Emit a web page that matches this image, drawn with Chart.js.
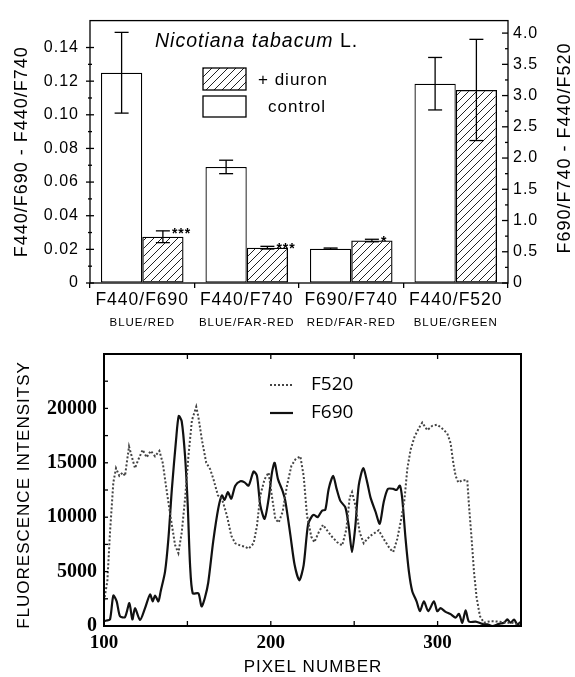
<!DOCTYPE html>
<html>
<head>
<meta charset="utf-8">
<script src="https://cdn.jsdelivr.net/npm/chart.js@4.4.0/dist/chart.umd.min.js"></script>
<style>
  html, body { margin: 0; padding: 0; background: #fff; }
  #wrap { position: relative; width: 575px; height: 677px; }
  #ratioChart { position: absolute; left: 0; top: 0; }
  #profileChart { position: absolute; left: 0; top: 335px; }
</style>
</head>
<body>
<div id="wrap">
  <canvas id="ratioChart" width="575" height="335"></canvas>
  <canvas id="profileChart" width="575" height="342"></canvas>
</div>
<script>
// ---- top panel: fluorescence ratios ----
const ratioLabels = ['F440/F690', 'F440/F740', 'F690/F740', 'F440/F520'];
const colourLabels = ['BLUE/RED', 'BLUE/FAR-RED', 'RED/FAR-RED', 'BLUE/GREEN'];
const ratioAxis = ['left', 'left', 'right', 'right'];
const controlValues = [0.125, 0.069, 0.55, 3.19];
const controlErrors = [0.024, 0.004, 0.01, 0.42];
const diuronValues = [0.0275, 0.021, 0.68, 3.09];
const diuronErrors = [0.0035, 0.0008, 0.02, 0.81];
const significance = ['***', '***', '*', ''];

// ---- bottom panel: intensity profile along a line of pixels ----
const pixelF690 = [100, 101.5, 103.6, 105.6, 107.6, 109.6, 112.6, 115.2, 117, 118.6, 121.6, 124.6, 127.6, 129.2, 130.6, 132.6, 134, 136.6, 138.6, 140.7, 143.2, 144.8, 146.6, 148.6, 150.2, 151.6, 153.2, 156.6, 158.5, 160.5, 162.5, 165.5, 168.5, 170.7, 172.3, 174.3, 176.3, 178.7, 181.7, 184.3, 186.7, 189.7, 191.7, 193.7, 196.3, 198.7, 200.7, 202.3, 204.3, 207.1, 208.7, 211.7, 214.3, 217.1, 219.7, 222.3, 224.7, 226.1, 228.1, 230.7, 232.7, 234.7, 237.4, 239.3, 241.7, 244.7, 246.7, 248.7, 250.7, 252.7, 255.4, 257.8, 259.8, 262.8, 265.3, 267.7, 270.2, 273.4, 275.4, 277.4, 278.8, 280.8, 282.8, 284.8, 287.4, 289.4, 291.8, 294.4, 297.8, 299.8, 301.8, 304.8, 307.8, 310.8, 312.8, 314.8, 316.8, 318.8, 322.8, 326.8, 329.8, 332.8, 336.8, 339.8, 341.8, 343.8, 345.8, 347.8, 350];
const intensityF690 = [450, 500, 600, 2800, 2270, 900, 820, 2100, 600, 1640, 550, 1640, 2900, 2270, 2800, 2270, 3200, 5000, 8000, 12600, 17100, 19300, 18800, 15600, 11100, 5600, 3000, 3000, 1800, 2600, 4000, 7800, 10800, 12000, 11600, 12300, 11700, 12900, 13300, 13200, 12900, 14200, 13800, 11100, 9850, 11700, 14100, 15000, 13500, 12400, 11500, 8400, 5600, 4200, 5600, 9300, 10100, 10200, 10000, 10600, 10700, 12600, 13800, 12700, 11500, 10900, 9200, 6800, 9200, 12900, 14500, 13200, 11800, 10500, 9400, 11400, 12600, 12600, 12500, 12900, 11700, 8000, 5000, 3200, 2270, 1360, 2270, 1360, 2270, 1360, 1640, 1300, 1090, 760, 1120, 300, 1450, 400, 400, 200, 150, 0, 200, 300, 600, 300, 600, 150, 400];
const pixelF520 = [100, 102, 103.6, 105.6, 107.2, 109.2, 111.2, 112.6, 115, 116.6, 118.6, 120.6, 123.2, 125.6, 128, 130.6, 133.2, 135.2, 137.7, 140.1, 142.6, 144.6, 146.6, 148.6, 150.6, 152.7, 155.3, 156.6, 158.7, 161.3, 163.7, 165.6, 168.3, 170.7, 173.7, 176.3, 178.7, 181.7, 184.3, 186.7, 189.7, 191.7, 193.7, 196.3, 198.7, 200.3, 202.7, 204.7, 207.1, 209.7, 212.3, 214.7, 217.7, 219.7, 221.7, 224.3, 226.1, 228.7, 231.3, 233.7, 236.7, 239.8, 242.8, 245.3, 247.3, 248.7, 250.7, 253.3, 255.7, 257.8, 259.8, 262.8, 264.7, 267.7, 271.4, 273.4, 275.8, 278.2, 280.2, 281.8, 283.8, 286.2, 288.8, 290.8, 293.8, 296.8, 299.8, 302.4, 305.8, 307.8, 309.4, 310.8, 312.4, 314.8, 317.8, 318.8, 320.4, 321.8, 323.4, 325.4, 327.8, 331.8, 336.8, 340.8, 344.8, 348, 350];
const intensityF520 = [2300, 4100, 8600, 13200, 14500, 13800, 14100, 13800, 16500, 15600, 14500, 15300, 16200, 15500, 16100, 15600, 16100, 15000, 12300, 9850, 7450, 6700, 8600, 11700, 15600, 18900, 20150, 19200, 17100, 15000, 14400, 13500, 12000, 11700, 10150, 8300, 7600, 7400, 7300, 7100, 7600, 9200, 12000, 13500, 14100, 12300, 9850, 9500, 10500, 12900, 14700, 15300, 15600, 13800, 10150, 8200, 7700, 8600, 9300, 8800, 8200, 7700, 7400, 8900, 11800, 12300, 11100, 8600, 7600, 8000, 8300, 8600, 8800, 8000, 7100, 6800, 8000, 9850, 11700, 14400, 16200, 17400, 18200, 18700, 18000, 18400, 18500, 18200, 17700, 16800, 15000, 13800, 13200, 13400, 13400, 11100, 8000, 5000, 2600, 900, 300, 450, 400, 300, 300, 150, 200];

const SANS = "'Liberation Sans', Arial, sans-serif";
const SERIF = "'Liberation Serif', 'Times New Roman', serif";
Chart.defaults.color = '#000';
Chart.defaults.font.family = SANS;

// diagonal hatch for the diuron bars
const hatch = (function() {
    const c = document.createElement('canvas');
    c.width = 8; c.height = 8;
    const g = c.getContext('2d');
    g.strokeStyle = '#222';
    g.lineWidth = 1;
    g.beginPath();
    g.moveTo(0, 8); g.lineTo(8, 0);
    g.moveTo(-1, 1); g.lineTo(1, -1);
    g.moveTo(7, 9); g.lineTo(9, 7);
    g.stroke();
    return g.createPattern(c, 'repeat');
})();

function pick(values, side) {
    return values.map((v, i) => ratioAxis[i] === side ? v : null);
}

function line(ctx, x1, y1, x2, y2) {
    ctx.beginPath();
    ctx.moveTo(x1, y1);
    ctx.lineTo(x2, y2);
    ctx.stroke();
}

function rotatedText(ctx, text, x, y) {
    ctx.save();
    ctx.translate(x, y);
    ctx.rotate(-Math.PI / 2);
    ctx.textAlign = 'center';
    ctx.textBaseline = 'middle';
    ctx.fillText(text, 0, 0);
    ctx.restore();
}

// the scanned figure uses loosely spaced lettering
const spacedText = {
    id: 'spacedText',
    beforeDraw(chart) { chart.ctx.letterSpacing = '1px'; }
};

const errorBars = {
    id: 'errorBars',
    afterDatasetsDraw(chart) {
        const ctx = chart.ctx;
        ctx.save();
        ctx.strokeStyle = '#000';
        ctx.lineWidth = 1.3;
        chart.data.datasets.forEach((ds, i) => {
            const meta = chart.getDatasetMeta(i);
            const scale = chart.scales[ds.yAxisID];
            meta.data.forEach((bar, j) => {
                const v = ds.data[j];
                if (v === null) return;
                const e = ds.errors[j];
                const hi = scale.getPixelForValue(v + e);
                const lo = scale.getPixelForValue(v - e);
                line(ctx, bar.x, hi, bar.x, lo);
                line(ctx, bar.x - 7, hi, bar.x + 7, hi);
                line(ctx, bar.x - 7, lo, bar.x + 7, lo);
                if (ds.stack === 'diuron' && significance[j]) {
                    ctx.fillStyle = '#000';
                    ctx.font = 'bold 14px ' + SANS;
                    ctx.textBaseline = 'middle';
                    ctx.textAlign = 'left';
                    ctx.fillText(significance[j], bar.x + 9, hi + 3);
                }
            });
        });
        ctx.restore();
    },
    afterDraw(chart) {
        const ctx = chart.ctx;
        const a = chart.chartArea;
        const yL = chart.scales.yL, yR = chart.scales.yR;
        ctx.save();
        ctx.strokeStyle = '#000';
        ctx.lineWidth = 1.3;
        ctx.strokeRect(a.left, a.top, a.right - a.left, a.bottom - a.top);

        // tick marks
        for (let k = 0; k <= 14; k++) {
            const y = yL.getPixelForValue(k * 0.01);
            const len = k % 2 === 0 ? 4 : 2;
            line(ctx, a.left - len, y, a.left + len, y);
        }
        for (let k = 0; k <= 16; k++) {
            const y = yR.getPixelForValue(k * 0.25);
            line(ctx, a.right - (k % 2 === 0 ? 6 : 3), y, a.right, y);
        }

        // right axis title, reading upward
        ctx.fillStyle = '#000';
        ctx.font = '18px ' + SANS;
        rotatedText(ctx, 'F690/F740 - F440/F520', 565, 148);

        // species name
        ctx.textAlign = 'left';
        ctx.textBaseline = 'middle';
        ctx.font = 'italic 19.5px ' + SANS;
        ctx.fillText('Nicotiana tabacum', 155, 42);
        const w = ctx.measureText('Nicotiana tabacum ').width;
        ctx.font = '19.5px ' + SANS;
        ctx.fillText('L.', 155 + w, 42);

        // legend
        ctx.lineWidth = 1.3;
        ctx.fillStyle = hatch;
        ctx.fillRect(203, 68, 43, 22);
        ctx.strokeRect(203, 68, 43, 22);
        ctx.fillStyle = '#fff';
        ctx.fillRect(203, 96, 43, 21);
        ctx.strokeRect(203, 96, 43, 21);
        ctx.fillStyle = '#000';
        ctx.font = '17px ' + SANS;
        ctx.fillText('+ diuron', 258, 80);
        ctx.fillText('control', 268, 107);
        ctx.restore();
        ctx.letterSpacing = '0px';
    }
};

const barStyle = { borderColor: '#000', borderWidth: 1.3, borderSkipped: false };

new Chart(document.getElementById('ratioChart'), {
    type: 'bar',
    data: {
        labels: ratioLabels,
        datasets: [
            Object.assign({ label: 'control', data: pick(controlValues, 'left'), errors: pick(controlErrors, 'left'),
                yAxisID: 'yL', stack: 'control', backgroundColor: '#fff' }, barStyle),
            Object.assign({ label: 'control', data: pick(controlValues, 'right'), errors: pick(controlErrors, 'right'),
                yAxisID: 'yR', stack: 'control', backgroundColor: '#fff' }, barStyle),
            Object.assign({ label: '+ diuron', data: pick(diuronValues, 'left'), errors: pick(diuronErrors, 'left'),
                yAxisID: 'yL', stack: 'diuron', backgroundColor: hatch }, barStyle),
            Object.assign({ label: '+ diuron', data: pick(diuronValues, 'right'), errors: pick(diuronErrors, 'right'),
                yAxisID: 'yR', stack: 'diuron', backgroundColor: hatch }, barStyle)
        ]
    },
    options: {
        responsive: false,
        animation: false,
        categoryPercentage: 0.79,
        barPercentage: 1.0,
        layout: { padding: { top: 14, left: 0, right: 0, bottom: 0 } },
        plugins: { legend: { display: false }, tooltip: { enabled: false } },
        scales: {
            x: {
                position: 'bottom',
                weight: 0,
                border: { display: false },
                grid: { drawOnChartArea: false, tickLength: 5, color: '#000', lineWidth: 1.3 },
                ticks: { font: { size: 17.5 }, padding: 2, autoSkip: false, maxRotation: 0 },
                afterFit: s => { s.height = 28; }
            },
            x2: {
                type: 'category',
                labels: colourLabels,
                position: 'bottom',
                weight: 1,
                border: { display: false },
                grid: { display: false, drawTicks: false },
                ticks: { font: { size: 11.5 }, padding: 5, autoSkip: false, maxRotation: 0 },
                afterFit: s => { s.height = 24; }
            },
            yL: {
                position: 'left',
                min: 0,
                max: 0.156,
                border: { display: false },
                grid: { drawOnChartArea: false, drawTicks: false },
                ticks: {
                    stepSize: 0.02,
                    includeBounds: false,
                    padding: 11,
                    font: { size: 16 },
                    callback: v => v === 0 ? '0' : v.toFixed(2)
                },
                title: { display: true, text: 'F440/F690 - F440/F740', font: { size: 18 }, padding: { top: 11, bottom: 0 } },
                afterFit: s => { s.width = 90; }
            },
            yR: {
                position: 'right',
                min: 0,
                max: 4.2,
                border: { display: false },
                grid: { drawOnChartArea: false, drawTicks: false },
                ticks: {
                    stepSize: 0.5,
                    includeBounds: false,
                    padding: 5,
                    font: { size: 16 },
                    callback: v => v === 0 ? '0' : v.toFixed(1)
                },
                afterFit: s => { s.width = 67; }
            }
        }
    },
    plugins: [spacedText, errorBars]
});

// ---- bottom chart ----
const profileDecor = {
    id: 'profileDecor',
    afterDraw(chart) {
        const ctx = chart.ctx;
        const a = chart.chartArea;
        const x = chart.scales.x, y = chart.scales.y;
        ctx.save();
        ctx.strokeStyle = '#000';
        ctx.lineWidth = 2;
        ctx.strokeRect(a.left, a.top, a.right - a.left, a.bottom - a.top);
        ctx.lineWidth = 1.3;
        for (let p = 100; p <= 350; p += 50) {
            const px = x.getPixelForValue(p);
            line(ctx, px, a.bottom, px, a.bottom - 5);
            line(ctx, px, a.top, px, a.top + 5);
        }
        for (let v = 2500; v < 25000; v += 2500) {
            const py = y.getPixelForValue(v);
            line(ctx, a.left, py, a.left + 4, py);
        }

        // axis titles
        ctx.fillStyle = '#000';
        ctx.letterSpacing = '1px';
        ctx.font = '17px ' + SANS;
        rotatedText(ctx, 'FLUORESCENCE INTENSITSY', 24, 160);
        ctx.textAlign = 'center';
        ctx.textBaseline = 'middle';
        ctx.fillText('PIXEL NUMBER', 313, 332);
        ctx.letterSpacing = '0px';

        // legend
        ctx.setLineDash([2, 2]);
        ctx.lineWidth = 2;
        ctx.strokeStyle = '#444';
        line(ctx, 270, 50, 293, 50);
        ctx.setLineDash([]);
        ctx.strokeStyle = '#111';
        ctx.lineWidth = 2.2;
        line(ctx, 270, 78, 293, 78);
        ctx.font = "19px 'Open Sans', sans-serif";
        ctx.textAlign = 'left';
        ctx.fillText('F520', 311, 50);
        ctx.fillText('F690', 311, 78);
        ctx.restore();
    }
};

new Chart(document.getElementById('profileChart'), {
    type: 'line',
    data: {
        datasets: [
            {
                label: 'F520',
                data: pixelF520.map((p, i) => ({ x: p, y: intensityF520[i] })),
                borderColor: '#444',
                borderWidth: 2,
                borderDash: [2, 2],
                pointRadius: 0,
                tension: 0
            },
            {
                label: 'F690',
                data: pixelF690.map((p, i) => ({ x: p, y: intensityF690[i] })),
                borderColor: '#111',
                borderWidth: 2.2,
                pointRadius: 0,
                tension: 0.25
            }
        ]
    },
    options: {
        responsive: false,
        animation: false,
        layout: { padding: { top: 16, right: 54, left: 0, bottom: 0 } },
        plugins: { legend: { display: false }, tooltip: { enabled: false } },
        scales: {
            x: {
                type: 'linear',
                min: 100,
                max: 350,
                border: { display: false },
                grid: { drawOnChartArea: false, drawTicks: false },
                ticks: { stepSize: 100, includeBounds: false, padding: 6, font: { family: SERIF, size: 19, weight: 'bold' } },
                afterFit: s => { s.height = 51; }
            },
            y: {
                min: 0,
                max: 25000,
                border: { display: false },
                grid: { drawOnChartArea: false, drawTicks: false },
                ticks: {
                    stepSize: 5000,
                    padding: 7,
                    font: { family: SERIF, size: 20, weight: 'bold' },
                    callback: v => v >= 25000 ? '' : v
                },
                afterFit: s => { s.width = 104; }
            }
        }
    },
    plugins: [profileDecor]
});
</script>
</body>
</html>
